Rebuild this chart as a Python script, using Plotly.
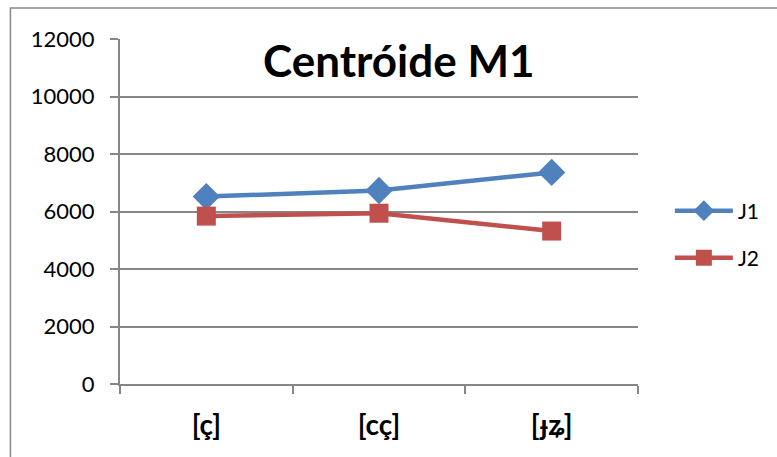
import plotly.graph_objects as go

categories = ["[ç]", "[cç]", "[ɟʑ]"]
j1_values = [6520, 6730, 7360]
j2_values = [5840, 5940, 5320]
y_ticks = [0, 2000, 4000, 6000, 8000, 10000, 12000]
y_tick_labels = ["0", "2000", "4000", "6000", "8000", "10000", "12000"]

W, H = 777, 457
L, R, T, B = 120, 137, 39, 73
pw, ph = W - L - R, H - T - B

fig = go.Figure()
fig.add_trace(go.Scatter(
    x=categories, y=j1_values, name="J1", mode="lines+markers",
    line=dict(color="#4F81BD", width=4.5),
    marker=dict(symbol="diamond", size=21, color="#4F81BD"),
    legend="legend",
))
fig.add_trace(go.Scatter(
    x=categories, y=j2_values, name="J2", mode="lines+markers",
    line=dict(color="#C0504D", width=4.5),
    marker=dict(symbol="square", size=19, color="#C0504D"),
    legend="legend2",
))

font_family = "Lato, 'Open Sans', sans-serif"
pad = "\u00a0" * 2

legend_common = dict(xanchor="left", yanchor="middle", itemwidth=58,
                     font=dict(size=21, family=font_family), bgcolor="rgba(0,0,0,0)")

fig.update_layout(
    width=W, height=H,
    margin=dict(l=L, r=R, t=T, b=B),
    paper_bgcolor="white", plot_bgcolor="white",
    font=dict(family=font_family, color="black"),
    showlegend=True,
    legend=dict(x=(672 - L) / pw, y=(H - B - 211) / ph, **legend_common),
    legend2=dict(x=(672 - L) / pw, y=(H - B - 258) / ph, **legend_common),
    annotations=[dict(
        text="<b>Centróide M1</b>", xref="paper", yref="paper",
        x=(400 - L) / pw, y=(H - B - 60) / ph, xanchor="center", yanchor="middle",
        showarrow=False, font=dict(size=44, family=font_family, color="black"),
    )],
    shapes=[dict(
        type="rect", xref="paper", yref="paper",
        x0=(10 - L) / pw, y0=-(H - 8 - T - ph + 20) / ph, x1=(W + 20 - L) / pw, y1=1 + (T - 8) / ph,
        line=dict(color="#888888", width=1.5), fillcolor="rgba(0,0,0,0)", layer="below",
    )],
)

fig.update_xaxes(
    type="category", range=[-0.5, 2.5],
    showline=True, linecolor="#868686", linewidth=1.5,
    ticks="outside", tickson="boundaries", ticklen=8, tickcolor="#868686", tickwidth=1.5,
    tickfont=dict(size=28, family=font_family, color="black"),
    ticklabelstandoff=16,
    tickvals=categories, ticktext=[f"<b>{c}</b>" for c in categories],
    showgrid=False, zeroline=False,
)
fig.update_yaxes(
    range=[0, 12000], tickvals=y_ticks, ticktext=[t + pad for t in y_tick_labels],
    showline=True, linecolor="#868686", linewidth=1.5,
    ticks="outside", ticklen=8, tickcolor="#868686", tickwidth=1.5,
    tickfont=dict(size=22, family=font_family, color="black"),
    showgrid=True, gridcolor="#868686", gridwidth=1.5, zeroline=False,
)

fig.write_html("out.html")
